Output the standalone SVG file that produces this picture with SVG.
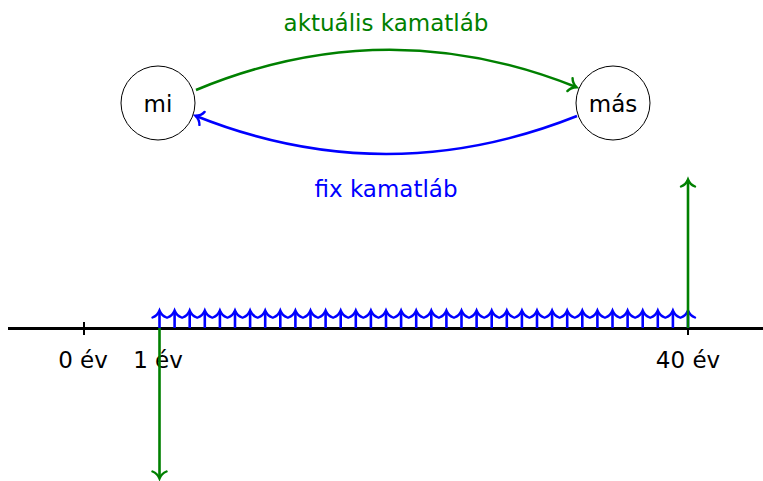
<svg xmlns="http://www.w3.org/2000/svg" width="763" height="481" viewBox="0 0 763 481">
<defs>
<style>
text{font-family:"DejaVu Sans","Liberation Sans",sans-serif;font-size:23px;text-anchor:middle}
.node{fill:#fff;stroke:#000;stroke-width:1}
.g{stroke:#008000;fill:none;stroke-width:2.6}
.b{stroke:#0000ff;fill:none;stroke-width:2.6}
.ax{stroke:#000;fill:none}
</style>
<marker id="ag" markerUnits="userSpaceOnUse" viewBox="-9 -9 12 18" refX="0" refY="0" markerWidth="12" markerHeight="18" orient="auto" overflow="visible">
<path d="M -6.5 -7 C -5 -3, -1.5 -0.8, 0.5 0 C -1.5 0.8, -5 3, -6.5 7" fill="none" stroke="#008000" stroke-width="2.4" stroke-linecap="round"/>
</marker>
<marker id="ab" markerUnits="userSpaceOnUse" viewBox="-9 -9 12 18" refX="0" refY="0" markerWidth="12" markerHeight="18" orient="auto" overflow="visible">
<path d="M -6.5 -7 C -5 -3, -1.5 -0.8, 0.5 0 C -1.5 0.8, -5 3, -6.5 7" fill="none" stroke="#0000ff" stroke-width="2.4" stroke-linecap="round"/>
</marker>
</defs>
<rect width="763" height="481" fill="#fff"/>
<g id="axis">
<line class="ax" x1="8" y1="328.5" x2="763" y2="328.5" stroke-width="3"/>
<line class="ax" x1="84" y1="322" x2="84" y2="335" stroke-width="2"/>
<line class="ax" x1="688" y1="322" x2="688" y2="335" stroke-width="2"/>
<text x="83" y="368">0 év</text>
<text x="158" y="368">1 év</text>
<text x="688" y="368">40 év</text>
</g>
<g id="payments">
<g class="b" marker-end="url(#ab)">
<line x1="159.5" y1="328" x2="159.5" y2="311"/><line x1="174.6" y1="328" x2="174.6" y2="311"/><line x1="189.7" y1="328" x2="189.7" y2="311"/><line x1="204.8" y1="328" x2="204.8" y2="311"/><line x1="219.9" y1="328" x2="219.9" y2="311"/><line x1="235" y1="328" x2="235" y2="311"/><line x1="250.1" y1="328" x2="250.1" y2="311"/><line x1="265.2" y1="328" x2="265.2" y2="311"/><line x1="280.3" y1="328" x2="280.3" y2="311"/><line x1="295.4" y1="328" x2="295.4" y2="311"/><line x1="310.5" y1="328" x2="310.5" y2="311"/><line x1="325.6" y1="328" x2="325.6" y2="311"/><line x1="340.7" y1="328" x2="340.7" y2="311"/><line x1="355.8" y1="328" x2="355.8" y2="311"/><line x1="370.9" y1="328" x2="370.9" y2="311"/><line x1="386" y1="328" x2="386" y2="311"/><line x1="401.1" y1="328" x2="401.1" y2="311"/><line x1="416.2" y1="328" x2="416.2" y2="311"/><line x1="431.3" y1="328" x2="431.3" y2="311"/><line x1="446.4" y1="328" x2="446.4" y2="311"/><line x1="461.5" y1="328" x2="461.5" y2="311"/><line x1="476.6" y1="328" x2="476.6" y2="311"/><line x1="491.7" y1="328" x2="491.7" y2="311"/><line x1="506.8" y1="328" x2="506.8" y2="311"/><line x1="521.9" y1="328" x2="521.9" y2="311"/><line x1="537" y1="328" x2="537" y2="311"/><line x1="552.1" y1="328" x2="552.1" y2="311"/><line x1="567.2" y1="328" x2="567.2" y2="311"/><line x1="582.3" y1="328" x2="582.3" y2="311"/><line x1="597.4" y1="328" x2="597.4" y2="311"/><line x1="612.5" y1="328" x2="612.5" y2="311"/><line x1="627.6" y1="328" x2="627.6" y2="311"/><line x1="642.7" y1="328" x2="642.7" y2="311"/><line x1="657.8" y1="328" x2="657.8" y2="311"/><line x1="672.9" y1="328" x2="672.9" y2="311"/><line x1="688" y1="328" x2="688" y2="311"/>
</g>
<line class="g" x1="159.5" y1="328" x2="159.5" y2="478" marker-end="url(#ag)"/>
<line class="g" x1="688" y1="328" x2="688" y2="180" marker-end="url(#ag)"/>
</g>
<g id="connectors">
<path class="g" d="M 196 90 Q 386 11 576 87" marker-end="url(#ag)"/>
<path class="b" d="M 577 116 Q 386 192 196 116" marker-end="url(#ab)"/>
<text x="386" y="31" fill="#008000">aktuális kamatláb</text>
<text x="386" y="197" fill="#0000ff">fix kamatláb</text>
</g>
<g id="node-mi">
<circle class="node" cx="158" cy="103" r="37"/>
<text x="158" y="112">mi</text>
</g>
<g id="node-mas">
<circle class="node" cx="613" cy="103" r="37"/>
<text x="613" y="112">más</text>
</g>
</svg>
